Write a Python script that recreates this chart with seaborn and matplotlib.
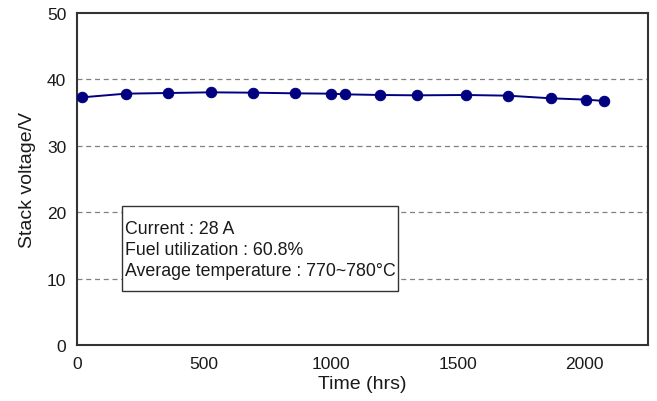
import numpy as np
import pandas as pd
import matplotlib
matplotlib.use('Agg')
import matplotlib.pyplot as plt
from matplotlib.patches import Rectangle
import seaborn as sns

# stack test data
time_hrs = [20, 190, 358, 526, 692, 860, 1000, 1055, 1195, 1340, 1532, 1697, 1868, 2007, 2078]
stack_v = [37.3, 37.85, 37.95, 38.05, 38.0, 37.9, 37.85, 37.75, 37.65, 37.6, 37.65, 37.55, 37.15, 36.95, 36.75]

x_ticks = [0, 500, 1000, 1500, 2000]
y_ticks = [0, 10, 20, 30, 40, 50]
grid_levels = [10, 20, 30, 40]

note_lines = ["Current : 28 A",
              "Fuel utilization : 60.8%",
              "Average temperature : 770~780\u00b0C"]

df = pd.DataFrame({'time': time_hrs, 'voltage': stack_v})

sns.set_style("white")
plt.rcParams['font.family'] = ['Liberation Sans', 'DejaVu Sans']

fig = plt.figure(figsize=(6.57, 4.02), dpi=100)
ax = fig.add_axes([0.1177, 0.1393, 0.8686, 0.8259])

for lv in grid_levels:
    ax.axhline(lv, color='#808080', linestyle=(0, (4, 3)), linewidth=0.9, zorder=0)

sns.lineplot(data=df, x='time', y='voltage', ax=ax, color='#000080',
             linewidth=1.4, marker='o', markersize=7.5, markeredgecolor='#000080',
             markerfacecolor='#000080', zorder=3)

ax.set_xlim(0, 2250)
ax.set_ylim(0, 50)
ax.set_xticks(x_ticks)
ax.set_yticks(y_ticks)
ax.tick_params(axis='x', direction='in', length=5, width=1, labelsize=12.5, pad=8,
               color='#333333', labelcolor='#1a1a1a')
ax.tick_params(axis='y', length=0, labelsize=12.5, pad=8, labelcolor='#1a1a1a')

ax.set_xlabel("Time (hrs)", fontsize=14, labelpad=3, color='#1a1a1a')
ax.set_ylabel("Stack voltage/V", fontsize=14, labelpad=8, color='#1a1a1a')

for _, spine in ax.spines.items():
    spine.set_visible(True)
    spine.set_linewidth(1.5)
    spine.set_color('#333333')

# note box
ax.add_patch(Rectangle((0.0789, 0.1636), 0.4836, 0.2542, transform=ax.transAxes,
                       facecolor='white', edgecolor='#333333', linewidth=1, zorder=4))
for yy, line in zip([0.3494, 0.2871, 0.2238], note_lines):
    ax.text(0.0836, yy, line, transform=ax.transAxes, fontsize=12.8,
            va='center', ha='left', color='#1a1a1a', zorder=5)

plt.savefig("out.png", dpi=100)
